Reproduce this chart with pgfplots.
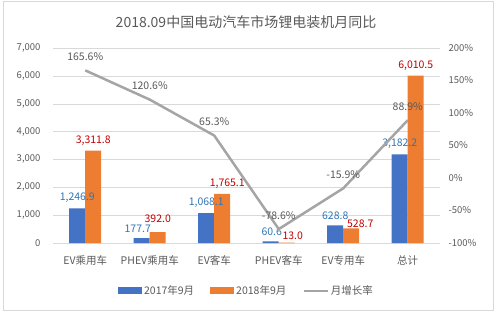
\documentclass[border=0pt]{standalone}
\usepackage{pgfplots}
\pgfplotsset{compat=1.18}
\usepackage{fontspec}
\setmainfont{Noto Sans CJK SC}
\definecolor{barblue}{HTML}{4472C4}
\definecolor{barorange}{HTML}{ED7D31}
\definecolor{linegray}{HTML}{A5A5A5}
\definecolor{gridgray}{HTML}{D9D9D9}
\definecolor{txtgray}{HTML}{595959}
\definecolor{lblblue}{HTML}{2E75B6}
\definecolor{lblred}{HTML}{C00000}

\pgfplotsset{
  legbar/.style={legend image code/.code={\fill[##1] (0pt,-3.5pt) rectangle (24pt,3.5pt);}},
  legline/.style={legend image code/.code={\draw[##1] (0pt,0pt) -- (24pt,0pt);}},
  frame/.style={
    at={(53pt,68pt)}, anchor=south west,
    scale only axis, width=387pt, height=195pt,
    xmin=-0.5, xmax=5.5,
    /pgf/number format/assume math mode=true,
    tick style={draw=none},
    ticklabel style={font=\fontsize{9.5}{11}\selectfont, text=txtgray},
  },
}

\begin{document}
\begin{tikzpicture}
\useasboundingbox (0,0) rectangle (496pt,311pt);
\draw[gridgray] (3pt,1pt) rectangle (493pt,310pt);
\node[text=txtgray, font=\fontsize{14}{16}\selectfont] at (246pt,289pt)
  {2018.09中国电动汽车市场锂电装机月同比};

% bars: installed capacity (left axis)
\begin{axis}[frame,
  ybar=0pt, bar width=16pt,
  ymin=0, ymax=7000, ytick={0,1000,...,7000},
  /pgf/number format/1000 sep={,},
  xtick={0,...,5},
  xticklabels={EV乘用车,PHEV乘用车,EV客车,PHEV客车,EV专用车,总计},
  xticklabel style={font=\fontsize{10.5}{12}\selectfont, yshift=-5pt},
  yticklabel style={xshift=-9pt},
  axis lines*=left,
  y axis line style={draw=none},
  x axis line style={gridgray},
  ymajorgrids, grid style={gridgray},
  nodes near coords={\pgfmathprintnumber[fixed,precision=1,zerofill,1000 sep={,}]{\pgfplotspointmeta}},
  every node near coord/.append style={font=\fontsize{10.5}{12}\selectfont, yshift=2pt},
  legend style={at={(0.5,-0.245)}, anchor=center, draw=none, fill=none,
    legend columns=3, font=\fontsize{10.5}{12}\selectfont, text=txtgray,
    /tikz/every even column/.append style={column sep=14pt}},
]
\addplot[fill=barblue, draw=none, legbar,
  every node near coord/.append style={text=lblblue},
  coordinate style/.condition={\coordindex==1}{xshift=-4pt},
  coordinate style/.condition={\coordindex==3}{xshift=1pt}]
  coordinates {(0,1246.9) (1,177.7) (2,1068.1) (3,60.6) (4,628.8) (5,3182.2)};
\addlegendentry{2017年9月}
\addplot[fill=barorange, draw=none, legbar,
  every node near coord/.append style={text=lblred},
  coordinate style/.condition={\coordindex==1}{yshift=4pt},
  coordinate style/.condition={\coordindex==2}{xshift=5pt},
  coordinate style/.condition={\coordindex==3}{xshift=6pt, yshift=-3pt},
  coordinate style/.condition={\coordindex==4}{xshift=9pt, yshift=-5pt}]
  coordinates {(0,3311.8) (1,392.0) (2,1765.1) (3,13.0) (4,528.7) (5,6010.5)};
\addlegendentry{2018年9月}
\addlegendimage{linegray, line width=2.5pt, legline}
\addlegendentry{月增长率}
\end{axis}

% line: year-on-year growth (right axis)
\begin{axis}[frame,
  ymin=-100, ymax=200, ytick={-100,-50,...,200},
  yticklabel={\pgfmathprintnumber{\tick}\%},
  yticklabel style={xshift=5pt},
  axis y line*=right, y axis line style={draw=none},
  hide x axis,
]
\addplot[linegray, line width=2.5pt, mark=none,
  nodes near coords={\pgfmathprintnumber[fixed,precision=1,zerofill]{\pgfplotspointmeta}\%},
  nodes near coords align=above,
  every node near coord/.append style={text=txtgray, font=\fontsize{10.5}{12}\selectfont, yshift=5pt}]
  coordinates {(0,165.6) (1,120.6) (2,65.3) (3,-78.6) (4,-15.9) (5,88.9)};
\end{axis}
\end{tikzpicture}
\end{document}
